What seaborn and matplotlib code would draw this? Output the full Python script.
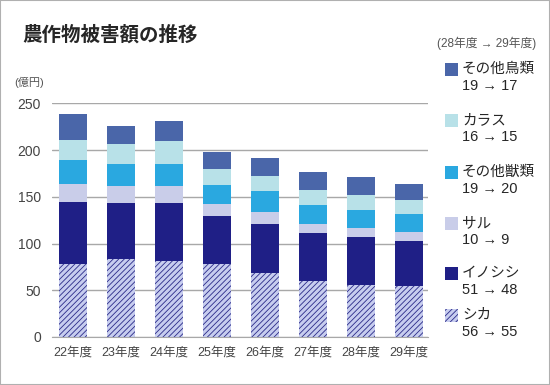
"""
農作物被害額の推移 - stacked bar chart (seaborn)
"""

import numpy as np
import matplotlib.pyplot as plt
import seaborn as sns
from matplotlib.patches import Rectangle

# data (億円)
years = ['22年度', '23年度', '24年度', '25年度', '26年度', '27年度', '28年度', '29年度']
shika = [78, 83, 81, 78, 68, 60, 56, 55]
inoshishi = [66, 60, 62, 51, 53, 51, 51, 48]
saru = [20, 19, 19, 13, 13, 10, 10, 9]
other_beasts = [25, 23, 23, 21, 22, 20, 19, 20]
karasu = [22, 21, 25, 17, 16, 16, 16, 15]
other_birds = [28, 20, 21, 18, 19, 19, 19, 17]

categories = ['シカ', 'イノシシ', 'サル', 'その他獣類', 'カラス', 'その他鳥類']
legend_values = ['56 → 55', '51 → 48', '10 → 9', '19 → 20', '16 → 15', '19 → 17']
colors = ['#c7cdef', '#1f1f86', '#c9cde9', '#2aa8e0', '#b8e1e8', '#4a66a9']

sns.set_style('white')
# Latin digits from Liberation Sans, kana/kanji fall back to Noto CJK
plt.rcParams['font.family'] = ['Liberation Sans', 'Noto Sans CJK JP', 'DejaVu Sans']
plt.rcParams['hatch.linewidth'] = 0.6

fig = plt.figure(figsize=(5.5, 3.85), dpi=100)
ax = fig.add_axes([0.0945, 0.1247, 0.6835, 0.607])

layers = [shika, inoshishi, saru, other_beasts, karasu, other_birds]
cum = np.cumsum(np.array(layers), axis=0)

# draw from top layer down so lower layers cover the upper cumulative bars
for i in reversed(range(len(layers))):
    hatch = '//////' if i == 0 else None
    sns.barplot(x=years, y=cum[i], color=colors[i], saturation=1, width=0.58,
                errorbar=None, ax=ax, linewidth=0,
                edgecolor='#2a2a88' if i == 0 else colors[i], hatch=hatch,
                zorder=3)

ax.set_ylim(0, 250)
ax.set_xlim(-0.44, 7.39)
ax.set_yticks([0, 50, 100, 150, 200, 250])
ax.yaxis.grid(True, color='#a8a8a8', linewidth=1, zorder=0)
ax.set_axisbelow(True)
for s in ['left', 'right', 'top']:
    ax.spines[s].set_visible(False)
ax.spines['bottom'].set_color('#a8a8a8')
ax.spines['bottom'].set_zorder(4)
ax.tick_params(axis='y', length=0, pad=8, labelsize=10, labelcolor='#444444')
ax.tick_params(axis='x', length=0, pad=7, labelsize=9, labelcolor='#444444')
ax.set_xlabel('')
ax.set_ylabel('')

# titles and notes
fig.text(22 / 550, 1 - 35 / 385, '農作物被害額の推移', fontsize=14,
         fontweight='bold', va='center', ha='left')
fig.text(14 / 550, 1 - 82 / 385, '(億円)', fontsize=8, color='#555555',
         va='center', ha='left')
fig.text(437 / 550, 1 - 43 / 385, '(28年度 → 29年度)', fontsize=8.5,
         color='#555555', va='center', ha='left')

# manual legend (top to bottom)
name_y = [315, 273, 223, 172, 120, 69]
for i in range(len(categories)):
    y = name_y[i]
    sq = Rectangle((445 / 550, 1 - (y + 6.5) / 385), 13 / 550, 13 / 385,
                   transform=fig.transFigure, facecolor=colors[i],
                   edgecolor='#2a2a88' if i == 0 else colors[i],
                   hatch='//////' if i == 0 else None, linewidth=0)
    fig.add_artist(sq)
    fig.text(462 / 550, 1 - y / 385, categories[i], fontsize=10.5,
             va='center', ha='left')
    fig.text(462 / 550, 1 - (y + 17) / 385, legend_values[i], fontsize=10.5,
             va='center', ha='left')

# grey frame
fig.add_artist(Rectangle((0, 0), 1, 1, transform=fig.transFigure, fill=False,
                         edgecolor='#b0b0b0', linewidth=1.5))

fig.savefig('out.png', dpi=100)
